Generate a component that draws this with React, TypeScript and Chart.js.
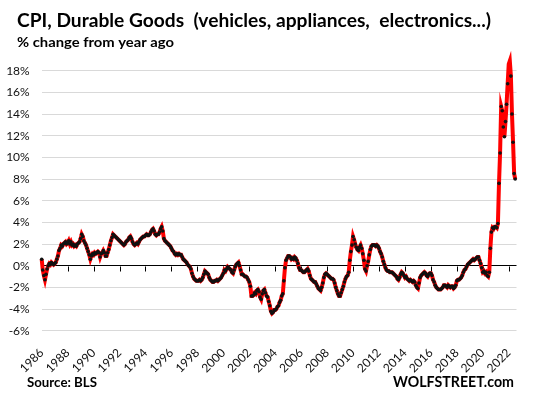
import React, { useEffect, useRef } from "react";
import { Chart, registerables } from "chart.js";

Chart.register(...registerables);

// Monthly CPI durable goods, % change from year ago (Jan 1986 .. Jul 2022)
const startYear = 1986;

const values1986to1990 = [
  0.6, -0.4, -0.9, -1.3, -0.8, -0.3, 0.0, 0.2, 0.1, 0.3, 0.2, 0.1,
  0.2, 0.3, 0.6, 0.9, 1.4, 1.6, 1.9, 1.8, 2.0, 2.1, 2.2, 2.0,
  2.1, 2.3, 2.0, 2.2, 1.9, 2.0, 1.8, 1.9, 1.8, 2.0, 2.1, 2.2,
  2.5, 2.9, 2.7, 2.3, 2.1, 1.9, 1.6, 1.3, 1.0, 0.6, 0.9, 1.1,
  1.0, 1.2, 1.1, 1.2, 1.3, 1.2, 0.8, 1.1, 1.2, 1.4, 1.2, 0.9,
];

const values1991to1995 = [
  0.9, 1.2, 1.5, 1.9, 2.3, 2.6, 2.9, 2.8, 2.7, 2.6, 2.5, 2.4,
  2.3, 2.2, 2.1, 2.0, 1.9, 2.0, 2.2, 2.3, 2.4, 2.6, 2.7, 2.5,
  2.2, 2.0, 1.9, 2.0, 2.1, 2.0, 2.2, 2.4, 2.5, 2.6, 2.7, 2.7,
  2.8, 2.9, 2.8, 2.8, 2.9, 3.1, 3.3, 3.4, 3.2, 2.9, 2.8, 2.9,
  2.9, 3.1, 3.4, 3.6, 3.2, 2.5, 2.3, 2.2, 2.1, 2.0, 1.9, 1.8,
];

const values1996to2000 = [
  1.6, 1.4, 1.3, 1.1, 1.0, 1.1, 1.0, 1.1, 1.0, 1.0, 0.8, 0.6,
  0.5, 0.4, 0.3, 0.1, 0.0, -0.1, -0.3, -0.7, -1.0, -1.2, -1.3, -1.4,
  -1.4, -1.4, -1.3, -1.4, -1.3, -1.1, -0.8, -0.5, -0.6, -0.7, -0.8, -1.1,
  -1.3, -1.4, -1.5, -1.5, -1.4, -1.4, -1.3, -1.4, -1.3, -1.2, -1.1, -0.9,
  -0.7, -0.4, -0.5, -0.3, -0.1, -0.2, -0.3, -0.4, -0.6, -0.7, -0.4, -0.1,
];

const values2001to2005 = [
  0.1, 0.2, 0.3, 0.0, -0.4, -0.8, -0.8, -0.9, -1.0, -1.0, -1.1, -1.3,
  -1.5, -1.9, -2.8, -2.8, -2.7, -2.5, -2.6, -2.3, -2.2, -2.4, -2.9, -3.1,
  -2.6, -2.3, -2.2, -2.5, -2.8, -2.9, -3.3, -3.7, -4.2, -4.4, -4.3, -4.1,
  -4.1, -4.0, -3.8, -3.7, -3.4, -3.2, -2.8, -2.6, -1.4, -0.2, 0.5, 0.7,
  0.9, 0.9, 0.8, 0.6, 0.7, 0.6, 0.8, 0.7, 0.5, 0.2, -0.2, -0.4,
];

const values2006to2010 = [
  -0.4, -0.5, -0.6, -0.6, -0.5, -0.4, -0.3, -0.5, -0.9, -1.2, -1.3, -1.4,
  -1.5, -1.5, -1.7, -1.9, -2.1, -2.2, -2.3, -2.0, -1.6, -1.1, -0.8, -0.7,
  -0.8, -0.9, -1.0, -1.1, -1.2, -1.2, -1.3, -1.6, -2.0, -2.3, -2.6, -2.8,
  -2.8, -2.5, -2.2, -1.9, -1.5, -1.2, -1.0, -0.9, -0.6, 0.5, 1.3, 1.9,
  2.7, 2.4, 2.0, 1.7, 1.5, 1.4, 1.7, 1.9, 1.6, 1.1, 0.5, -0.3,
];

const values2011to2015 = [
  -0.5, 0.0, 0.4, 1.0, 1.5, 1.8, 1.9, 1.9, 1.9, 1.8, 1.9, 1.8,
  1.6, 1.3, 1.1, 0.8, 0.4, 0.1, -0.2, -0.4, -0.5, -0.5, -0.6, -0.6,
  -0.6, -0.7, -0.8, -0.9, -1.0, -1.2, -1.3, -1.1, -0.8, -0.6, -0.7, -0.9,
  -1.1, -1.0, -1.2, -1.3, -1.4, -1.3, -1.4, -1.5, -1.4, -1.5, -1.8, -2.0,
  -2.1, -1.6, -1.1, -0.9, -0.8, -0.7, -0.6, -0.7, -0.9, -1.0, -0.8, -0.7,
];

const values2016to2020 = [
  -0.7, -0.9, -1.3, -1.5, -1.8, -2.0, -2.1, -2.2, -2.2, -2.2, -2.1, -2.0,
  -1.8, -1.8, -1.9, -2.0, -1.8, -1.9, -2.0, -1.9, -1.9, -2.1, -2.0, -1.8,
  -1.4, -1.3, -1.3, -1.2, -1.1, -0.9, -0.6, -0.4, -0.3, -0.1, 0.1, 0.2,
  0.3, 0.4, 0.5, 0.6, 0.5, 0.6, 0.7, 0.8, 0.8, 0.5, 0.2, -0.2,
  -0.6, -0.5, -0.7, -0.6, -0.9, -1.0, -0.6, 1.6, 3.1, 3.5, 3.4, 3.6,
];

const values2021to2022 = [
  3.6, 3.5, 3.9, 7.6, 10.4, 14.7, 14.3, 12.8, 11.9, 13.3, 14.9, 16.8,
  18.6, 18.9, 17.5, 14.0, 11.4, 8.5, 8.0,
];

const yMin = -6;
const yMax = 18;
const yStep = 2;
const xMin = 1986;
const xMax = 2022.6;
const xStep = 2;

const titleText = "CPI, Durable Goods  (vehicles, appliances,  electronics...)";
const subtitleText = "% change from year ago";
const sourceText = "Source: BLS";
const brandText = "WOLFSTREET.com";

function drawFitted(
  ctx: CanvasRenderingContext2D,
  text: string,
  x: number,
  baseline: number,
  font: string,
  targetWidth: number
) {
  ctx.save();
  ctx.font = font;
  ctx.textAlign = "left";
  ctx.textBaseline = "alphabetic";
  const w = ctx.measureText(text).width;
  const sx = w > 0 ? targetWidth / w : 1;
  ctx.translate(x, baseline);
  ctx.scale(sx, 1);
  ctx.fillStyle = "#000";
  ctx.fillText(text, 0, 0);
  ctx.restore();
}

const zeroTicksPlugin = {
  id: "zeroTicks",
  beforeDatasetsDraw(chart: any) {
    const { ctx, scales } = chart;
    const x = scales.x;
    const y = scales.y;
    const y0 = Math.round(y.getPixelForValue(0)) + 0.5;
    ctx.save();
    ctx.strokeStyle = "#000";
    ctx.lineWidth = 1;
    x.ticks.forEach((t: any) => {
      if (t.value <= x.min) return;
      const px = Math.round(x.getPixelForValue(t.value)) + 0.5;
      ctx.beginPath();
      ctx.moveTo(px, y0);
      ctx.lineTo(px, y0 + 5);
      ctx.stroke();
    });
    ctx.restore();
  },
};

const textPlugin = {
  id: "texts",
  afterDraw(chart: any) {
    const ctx = chart.ctx as CanvasRenderingContext2D;
    drawFitted(ctx, titleText, 17, 27, "bold 18px Lato", 474);
    drawFitted(ctx, subtitleText, 17, 47, "bold 13px Lato", 157);
    drawFitted(ctx, sourceText, 27, 387, "bold 14px Lato", 70);
    drawFitted(ctx, brandText, 393, 387, "bold 15px Lato", 121);
  },
};

export default function App() {
  const ref = useRef<HTMLCanvasElement>(null);

  useEffect(() => {
    const all = [
      ...values1986to1990,
      ...values1991to1995,
      ...values1996to2000,
      ...values2001to2005,
      ...values2006to2010,
      ...values2011to2015,
      ...values2016to2020,
      ...values2021to2022,
    ];
    const points = all.map((v, i) => ({ x: startYear + i / 12, y: v }));

    const chart = new Chart(ref.current as HTMLCanvasElement, {
      type: "line",
      data: {
        datasets: [
          {
            data: points,
            borderColor: "#ff0000",
            borderWidth: 4,
            pointRadius: 1.8,
            pointBackgroundColor: "#111",
            pointBorderColor: "#111",
            pointBorderWidth: 0,
            tension: 0,
            clip: false as any,
          },
        ],
      },
      options: {
        animation: false,
        responsive: false,
        layout: { padding: { top: 70.7, right: 5.3, left: 0, bottom: 0 } },
        plugins: {
          legend: { display: false },
          tooltip: { enabled: false },
          title: { display: false },
        },
        scales: {
          x: {
            type: "linear",
            min: xMin,
            max: xMax,
            grid: { display: false, drawTicks: false },
            border: { display: false },
            ticks: {
              stepSize: xStep,
              includeBounds: false,
              autoSkip: false,
              maxRotation: 45,
              minRotation: 45,
              padding: 15,
              color: "#111",
              font: { family: "Lato", size: 12 },
              callback: (v: any) => String(v),
            },
            afterFit: (s: any) => {
              s.height = 66.3;
            },
          },
          y: {
            min: yMin,
            max: yMax,
            grid: {
              color: (c: any) => (c.tick && c.tick.value === 0 ? "#000" : "#d9d9d9"),
              lineWidth: 1,
              drawTicks: false,
            },
            border: { display: false },
            ticks: {
              stepSize: yStep,
              padding: 12,
              color: "#111",
              font: { family: "Lato", size: 12 },
              callback: (v: any) => v + "%",
            },
            afterFit: (s: any) => {
              s.width = 41.7;
            },
          },
        },
      },
      plugins: [zeroTicksPlugin, textPlugin],
    });
    return () => chart.destroy();
  }, []);

  return (
    <div
      style={{
        position: "absolute",
        left: 0,
        top: 0,
        width: 534,
        height: 397,
        background: "#fff",
      }}
    >
      <canvas ref={ref} width={534} height={397} style={{ display: "block" }} />
    </div>
  );
}
